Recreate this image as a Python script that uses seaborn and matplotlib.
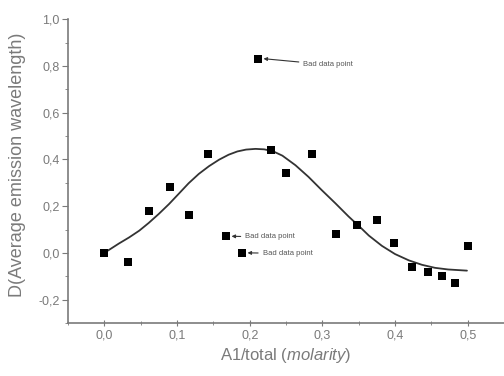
import matplotlib
matplotlib.use("Agg")
import matplotlib.pyplot as plt
from matplotlib.ticker import MultipleLocator, FuncFormatter
import seaborn as sns
import pandas as pd

# Measured points
x_data = [0.000, 0.032, 0.062, 0.091, 0.117, 0.142, 0.167, 0.189, 0.211,
          0.230, 0.250, 0.286, 0.319, 0.347, 0.375, 0.399, 0.423, 0.445,
          0.464, 0.483, 0.501]
y_data = [0.000, -0.040, 0.181, 0.280, 0.161, 0.421, 0.071, 0.000, 0.831,
          0.440, 0.340, 0.421, 0.081, 0.120, 0.140, 0.041, -0.059, -0.081,
          -0.099, -0.130, 0.030]

# Fitted curve, sampled along its length
x_fit = [0.000, 0.007, 0.020, 0.034, 0.048, 0.061, 0.075, 0.089, 0.103,
         0.116, 0.130, 0.144, 0.158, 0.171, 0.183, 0.195, 0.208, 0.220,
         0.232, 0.245, 0.263, 0.281, 0.299, 0.318, 0.336, 0.354, 0.364,
         0.382, 0.400, 0.419, 0.437, 0.455, 0.473, 0.499]
y_fit = [0.000, 0.014, 0.040, 0.066, 0.095, 0.128, 0.167, 0.209, 0.255,
         0.298, 0.338, 0.371, 0.399, 0.420, 0.434, 0.442, 0.445, 0.443,
         0.435, 0.416, 0.375, 0.325, 0.269, 0.212, 0.156, 0.104, 0.074,
         0.030, -0.005, -0.032, -0.051, -0.064, -0.071, -0.076]

# Flagged points: (point x, point y, text x, text y)
bad_points = [(0.211, 0.831, 0.274, 0.805),
              (0.167, 0.071, 0.194, 0.068),
              (0.189, 0.000, 0.218, -0.002)]
bad_label = "Bad data point"

sns.set_style("ticks")
plt.rcParams["font.family"] = ["Liberation Sans", "DejaVu Sans"]
plt.rcParams["mathtext.fontset"] = "custom"
plt.rcParams["mathtext.rm"] = "Liberation Sans"
plt.rcParams["mathtext.it"] = "Liberation Sans:italic"

grey = "#7a7a7a"
fig = plt.figure(figsize=(5.04, 3.76), dpi=100)
ax = fig.add_axes([0.135, 0.141, 0.865, 0.808])

pts = pd.DataFrame({"x": x_data, "y": y_data})
fit = pd.DataFrame({"x": x_fit, "y": y_fit})
sns.lineplot(data=fit, x="x", y="y", ax=ax, color="#333333", linewidth=1.3,
             sort=False)
sns.scatterplot(data=pts, x="x", y="y", ax=ax, marker="s", s=32,
                color="black", edgecolor="black", linewidth=0, zorder=3)

for px, py, tx, ty in bad_points:
    ax.annotate(bad_label, xy=(px + 0.008, py), xytext=(tx, ty),
                fontsize=5.5, color="#555555", va="center", ha="left",
                arrowprops=dict(arrowstyle="-|>", color="#333333", lw=0.8,
                                mutation_scale=5, shrinkA=1, shrinkB=0))

ax.set_xlim(-0.05, 0.55)
ax.set_ylim(-0.3, 1.0)
ax.xaxis.set_major_locator(MultipleLocator(0.1))
ax.xaxis.set_minor_locator(MultipleLocator(0.05))
ax.yaxis.set_major_locator(MultipleLocator(0.2))
ax.yaxis.set_minor_locator(MultipleLocator(0.1))
comma = FuncFormatter(lambda v, p: f"{v:.1f}".replace(".", ",").replace("-0,0", "0,0"))
ax.xaxis.set_major_formatter(comma)
ax.yaxis.set_major_formatter(comma)

for s in ("top", "right"):
    ax.spines[s].set_visible(False)
for s in ("left", "bottom"):
    ax.spines[s].set_color(grey)
    ax.spines[s].set_linewidth(1.2)

ax.tick_params(axis="y", which="major", direction="out", length=4,
               color=grey, labelcolor=grey, labelsize=9, pad=2)
ax.tick_params(axis="y", which="minor", direction="out", length=2.5,
               color=grey)
ax.tick_params(axis="x", which="major", direction="inout", length=4,
               color=grey, labelcolor=grey, labelsize=9, pad=3)
ax.tick_params(axis="x", which="minor", direction="inout", length=3,
               color=grey)

ax.set_xlabel(r"A1/total $\mathit{(molarity)}$", fontsize=12, color=grey,
              labelpad=3)
ax.set_ylabel("D(Average emission wavelength)", fontsize=13, color=grey,
              labelpad=2)
ax.yaxis.set_label_coords(-0.097, 0.52)

fig.savefig("out.png", dpi=100)
